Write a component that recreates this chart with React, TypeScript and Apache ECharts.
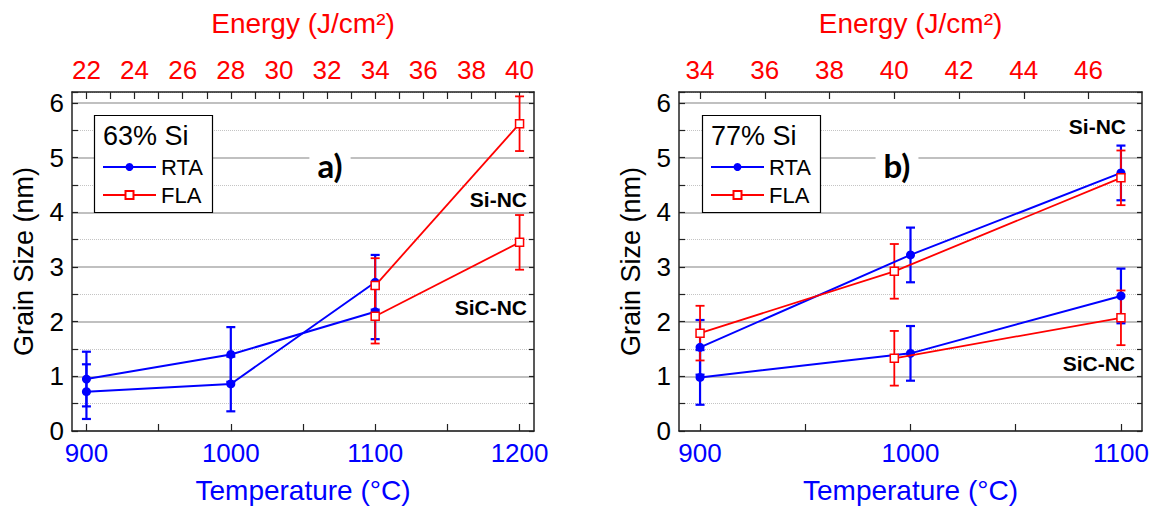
import React, { useEffect, useRef } from 'react';
import * as echarts from 'echarts';

// ---------- axes ----------
const yMax = 6.2;
const tempRangeA = [890, 1210];
const energyRangeA = [21.4, 40.6];
const tempTicksA = [900, 950, 1000, 1050, 1100, 1150, 1200];
const tempLabelsA = [900, 1000, 1100, 1200];
const energyTicksA = [22, 23, 24, 25, 26, 27, 28, 29, 30, 31, 32, 33, 34, 35, 36, 37, 38, 39, 40];
const energyLabelsA = [22, 24, 26, 28, 30, 32, 34, 36, 38, 40];

const tempRangeB = [890, 1110];
const energyRangeB = [33.35, 47.65];
const tempTicksB = [900, 950, 1000, 1050, 1100];
const tempLabelsB = [900, 1000, 1100];
const energyTicksB = [34, 36, 38, 40, 42, 44, 46];
const energyLabelsB = [34, 36, 38, 40, 42, 44, 46];

// ---------- data: panel a) 63% Si ----------
const rtaTempA = [900, 1000, 1100];
const rtaSiA = [0.72, 0.86, 2.72];
const rtaSiErrA = [0.5, 0.5, 0.5];
const rtaSiCA = [0.95, 1.4, 2.18];
const rtaSiCErrA = [0.5, 0.5, 0.5];
const flaEnergyA = [34, 40];
const flaSiA = [2.66, 5.62];
const flaSiErrA = [0.5, 0.5];
const flaSiCA = [2.1, 3.45];
const flaSiCErrA = [0.5, 0.5];

// ---------- data: panel b) 77% Si ----------
const rtaTempB = [900, 1000, 1100];
const rtaSiB = [1.53, 3.22, 4.72];
const rtaSiErrB = [0.5, 0.5, 0.5];
const rtaSiCB = [0.98, 1.42, 2.47];
const rtaSiCErrB = [0.5, 0.5, 0.5];
const flaEnergySiB = [34, 40, 47];
const flaSiB = [1.79, 2.92, 4.63];
const flaSiErrB = [0.5, 0.5, 0.5];
const flaEnergySiCB = [40, 47];
const flaSiCB = [1.33, 2.07];
const flaSiCErrB = [0.5, 0.5];

const FONT = 'Liberation Sans, Arial, sans-serif';
const BLUE = '#0000ff';
const RED = '#ff0000';
const FRAME = '#222222';

const pairs = (xs: number[], ys: number[]) => xs.map((x, i) => [x, ys[i]]);
const errPairs = (xs: number[], ys: number[], es: number[]) =>
  xs.map((x, i) => [x, ys[i] - es[i], ys[i] + es[i]]);

function errSeries(color: string, width: number, xAxisIndex: number, yAxisIndex: number, data: number[][]) {
  return {
    type: 'custom',
    xAxisIndex,
    yAxisIndex,
    silent: true,
    encode: { x: 0, y: [1, 2] },
    data,
    z: 2,
    renderItem: (params: any, api: any) => {
      const x = api.value(0);
      const p1 = api.coord([x, api.value(1)]);
      const p2 = api.coord([x, api.value(2)]);
      const hw = 4.5;
      const style = { stroke: color, lineWidth: width };
      return {
        type: 'group',
        children: [
          { type: 'line', shape: { x1: p1[0], y1: p1[1], x2: p2[0], y2: p2[1] }, style },
          { type: 'line', shape: { x1: p1[0] - hw, y1: p1[1], x2: p1[0] + hw, y2: p1[1] }, style },
          { type: 'line', shape: { x1: p2[0] - hw, y1: p2[1], x2: p2[0] + hw, y2: p2[1] }, style },
        ],
      };
    },
  };
}

function rtaLine(xAxisIndex: number, yAxisIndex: number, data: number[][]) {
  return {
    type: 'line',
    name: 'RTA',
    xAxisIndex,
    yAxisIndex,
    data,
    symbol: 'circle',
    symbolSize: 9,
    lineStyle: { color: BLUE, width: 2 },
    itemStyle: { color: BLUE },
    z: 3,
  };
}

function flaLine(xAxisIndex: number, yAxisIndex: number, data: number[][]) {
  return {
    type: 'line',
    name: 'FLA',
    xAxisIndex,
    yAxisIndex,
    data,
    symbol: 'rect',
    symbolSize: 8,
    lineStyle: { color: RED, width: 1.8 },
    itemStyle: { color: '#ffffff', borderColor: RED, borderWidth: 1.5 },
    z: 4,
  };
}

function yAxes(gridIndex: number) {
  return [
    {
      type: 'value',
      gridIndex,
      position: 'left',
      min: 0,
      max: yMax,
      interval: 0.5,
      axisLine: { show: true, onZero: false, lineStyle: { color: FRAME, width: 1.5 } },
      axisTick: { show: true, inside: true, length: 6, lineStyle: { color: FRAME, width: 1.2 } },
      axisLabel: {
        formatter: (v: number) => (Number.isInteger(v) ? String(v) : ''),
        color: '#000',
        fontSize: 26,
        fontFamily: FONT,
        margin: 8,
      },
      splitLine: {
        show: true,
        showMinLine: true,
        showMaxLine: true,
        lineStyle: { color: ['#ababab', 'rgba(0,0,0,0)'], width: 1.6 },
      },
      name: 'Grain Size (nm)',
      nameLocation: 'middle',
      nameGap: 35,
      nameTextStyle: { color: '#000', fontSize: 27, fontFamily: FONT },
    },
    {
      type: 'value',
      gridIndex,
      position: 'right',
      min: 0,
      max: yMax,
      interval: 0.5,
      axisLine: { show: true, onZero: false, lineStyle: { color: FRAME, width: 1.5 } },
      axisTick: { show: true, inside: true, length: 5, lineStyle: { color: FRAME, width: 1.2 } },
      axisLabel: { show: false },
      splitLine: {
        show: true,
        showMinLine: true,
        showMaxLine: true,
        lineStyle: { color: ['rgba(0,0,0,0)', '#c4c4c4'], width: 1, type: 'dotted' },
      },
    },
  ];
}

function xAxes(gridIndex: number, tRange: number[], tTicks: number[], tLabels: number[], eRange: number[], eTicks: number[], eLabels: number[]) {
  return [
    {
      type: 'value',
      gridIndex,
      position: 'bottom',
      min: tRange[0],
      max: tRange[1],
      axisLine: { show: true, onZero: false, lineStyle: { color: FRAME, width: 1.5 } },
      axisTick: { show: true, inside: true, length: 7, customValues: tTicks, lineStyle: { color: FRAME, width: 1.2 } },
      axisLabel: {
        customValues: tLabels,
        formatter: (v: number) => String(v),
        color: BLUE,
        fontSize: 26,
        fontFamily: FONT,
        margin: 9,
      },
      splitLine: { show: false },
      name: 'Temperature (°C)',
      nameLocation: 'middle',
      nameGap: 45,
      nameTextStyle: { color: BLUE, fontSize: 28, fontFamily: FONT },
    },
    {
      type: 'value',
      gridIndex,
      position: 'top',
      min: eRange[0],
      max: eRange[1],
      axisLine: { show: true, onZero: false, lineStyle: { color: FRAME, width: 1.5 } },
      axisTick: { show: true, inside: true, length: 7, customValues: eTicks, lineStyle: { color: FRAME, width: 1.2 } },
      axisLabel: {
        customValues: eLabels,
        formatter: (v: number) => String(v),
        color: RED,
        fontSize: 26,
        fontFamily: FONT,
        margin: 9,
      },
      splitLine: { show: false },
      name: 'Energy (J/cm²)',
      nameLocation: 'middle',
      nameGap: 55,
      nameTextStyle: { color: RED, fontSize: 28, fontFamily: FONT },
    },
  ];
}

function legendBox(x: number, title: string) {
  return [
    {
      type: 'rect',
      z: 5,
      shape: { x: x + 0.5, y: 115.5, width: 118, height: 97 },
      style: { fill: '#ffffff', stroke: '#000000', lineWidth: 1.2 },
    },
    {
      type: 'text',
      z: 6,
      x: x + 9,
      y: 136,
      style: { text: title, fontSize: 27, fontFamily: FONT, fill: '#000', align: 'left', verticalAlign: 'middle' },
    },
  ];
}

function label(text: string, x: number, y: number, size: number, align: string, family = FONT, bg = false) {
  return {
    type: 'text',
    z: 6,
    x,
    y,
    style: {
      text,
      fontSize: size,
      fontWeight: 'bold',
      fontFamily: family,
      fill: '#000',
      align,
      verticalAlign: 'middle',
      backgroundColor: bg ? '#ffffff' : undefined,
      padding: bg ? [0, 8] : undefined,
    },
  };
}

export default function App() {
  const ref = useRef<HTMLDivElement>(null);
  useEffect(() => {
    if (!ref.current) return;
    const chart = echarts.init(ref.current, undefined, { renderer: 'svg' });
    const legendCommon = {
      data: ['RTA', 'FLA'],
      orient: 'vertical',
      top: 156,
      itemWidth: 53,
      itemHeight: 10,
      itemGap: 6,
      padding: 0,
      selectedMode: false,
      z: 10,
      textStyle: { fontSize: 22, fontFamily: FONT, color: '#000', lineHeight: 22 },
    };
    chart.setOption({
      animation: false,
      backgroundColor: '#ffffff',
      grid: [
        { left: 72, top: 92, width: 462, height: 339 },
        { left: 679, top: 92, width: 463, height: 339 },
      ],
      xAxis: [
        ...xAxes(0, tempRangeA, tempTicksA, tempLabelsA, energyRangeA, energyTicksA, energyLabelsA),
        ...xAxes(1, tempRangeB, tempTicksB, tempLabelsB, energyRangeB, energyTicksB, energyLabelsB),
      ],
      yAxis: [...yAxes(0), ...yAxes(1)],
      legend: [
        { ...legendCommon, left: 102 },
        { ...legendCommon, left: 710 },
      ],
      graphic: [
        ...legendBox(94, '63% Si'),
        ...legendBox(702, '77% Si'),
        label('a)', 330, 165, 33, 'center', 'Lato, Open Sans, sans-serif', true),
        label('b)', 897, 165, 33, 'center', 'Lato, Open Sans, sans-serif', true),
        label('Si-NC', 527, 199, 21, 'right'),
        label('SiC-NC', 527, 307, 21, 'right'),
        label('Si-NC', 1134, 126, 21, 'right', FONT, true),
        label('SiC-NC', 1135, 363, 21, 'right'),
      ],
      series: [
        // panel a
        errSeries(BLUE, 2.2, 0, 0, errPairs(rtaTempA, rtaSiA, rtaSiErrA)),
        errSeries(BLUE, 2.2, 0, 0, errPairs(rtaTempA, rtaSiCA, rtaSiCErrA)),
        rtaLine(0, 0, pairs(rtaTempA, rtaSiA)),
        rtaLine(0, 0, pairs(rtaTempA, rtaSiCA)),
        errSeries(RED, 1.8, 1, 0, errPairs(flaEnergyA, flaSiA, flaSiErrA)),
        errSeries(RED, 1.8, 1, 0, errPairs(flaEnergyA, flaSiCA, flaSiCErrA)),
        flaLine(1, 0, pairs(flaEnergyA, flaSiA)),
        flaLine(1, 0, pairs(flaEnergyA, flaSiCA)),
        // panel b
        errSeries(BLUE, 2.2, 2, 2, errPairs(rtaTempB, rtaSiB, rtaSiErrB)),
        errSeries(BLUE, 2.2, 2, 2, errPairs(rtaTempB, rtaSiCB, rtaSiCErrB)),
        rtaLine(2, 2, pairs(rtaTempB, rtaSiB)),
        rtaLine(2, 2, pairs(rtaTempB, rtaSiCB)),
        errSeries(RED, 1.8, 3, 2, errPairs(flaEnergySiB, flaSiB, flaSiErrB)),
        errSeries(RED, 1.8, 3, 2, errPairs(flaEnergySiCB, flaSiCB, flaSiCErrB)),
        flaLine(3, 2, pairs(flaEnergySiB, flaSiB)),
        flaLine(3, 2, pairs(flaEnergySiCB, flaSiCB)),
      ],
    });
    return () => chart.dispose();
  }, []);
  return (
    <div
      ref={ref}
      style={{ position: 'absolute', left: 0, top: 0, width: 1158, height: 509, background: '#fff' }}
    />
  );
}
